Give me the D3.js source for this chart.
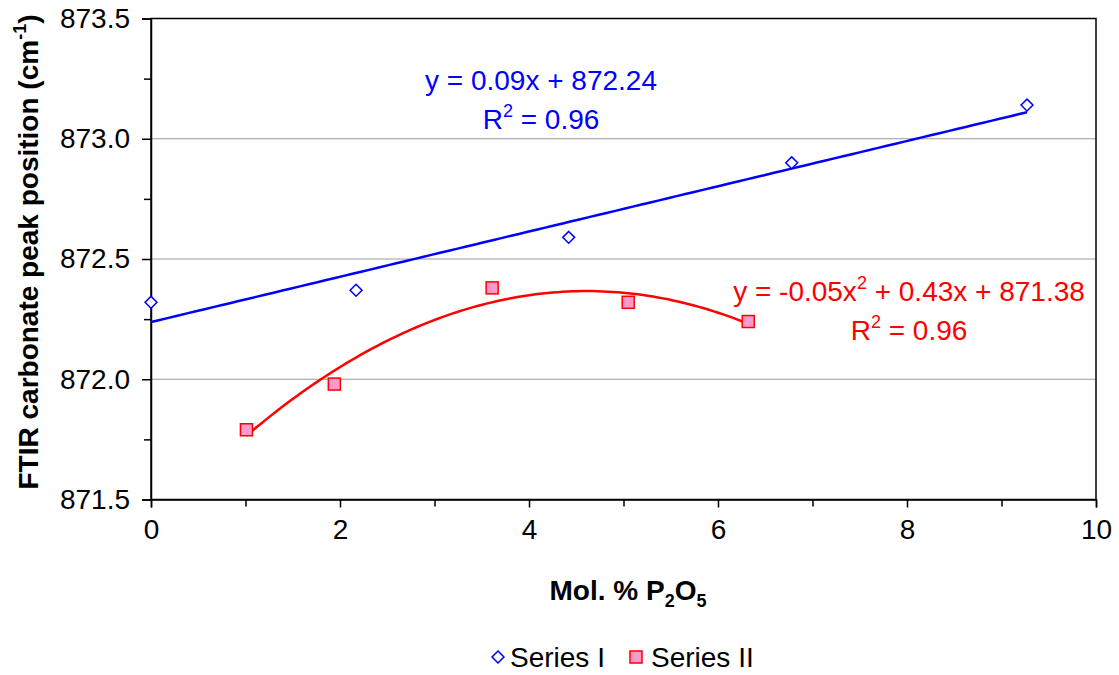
<!DOCTYPE html>
<html>
<head>
<meta charset="utf-8">
<script src="https://cdn.jsdelivr.net/npm/d3@7"></script>
<style>
  body { margin: 0; background: #fff; }
  text { font-family: Arial, "Liberation Sans", sans-serif; }
</style>
</head>
<body>
<svg id="chart" width="1119" height="675"></svg>
<script>
// data
var seriesIx = [0, 2.17, 4.42, 6.78, 9.27];
var seriesIy = [872.32, 872.37, 872.59, 872.90, 873.14];
var seriesIIx = [1.01, 1.94, 3.61, 5.05, 6.32];
var seriesIIy = [871.79, 871.98, 872.38, 872.32, 872.24];
var seriesNames = ['Series I', 'Series II'];
var xTicks = [0, 2, 4, 6, 8, 10];
var yTicks = [871.5, 872.0, 872.5, 873.0, 873.5];

var svg = d3.select('#chart');
var margin = {left: 151, top: 18.5, right: 1096, bottom: 499.5};

var x = d3.scaleLinear().domain([0, 10]).range([margin.left, margin.right]);
var y = d3.scaleLinear().domain([871.5, 873.5]).range([margin.bottom, margin.top]);

// gridlines
svg.append('g').selectAll('line')
    .data(yTicks.slice(1, -1))
    .enter().append('line')
    .attr('x1', margin.left).attr('x2', margin.right)
    .attr('y1', function(d) { return y(d); })
    .attr('y2', function(d) { return y(d); })
    .attr('stroke', '#9a9a9a')
    .attr('stroke-width', 1);

// plot border
svg.append('rect')
    .attr('x', margin.left).attr('y', margin.top)
    .attr('width', margin.right - margin.left)
    .attr('height', margin.bottom - margin.top)
    .attr('fill', 'none')
    .attr('stroke', '#000')
    .attr('stroke-width', 1.5);

// axes
var xAxis = d3.axisBottom(x).tickValues(xTicks).tickSize(8).tickPadding(12)
    .tickFormat(d3.format('d'));
var gx = svg.append('g').attr('transform', 'translate(0,' + margin.bottom + ')').call(xAxis);
gx.select('.domain').attr('stroke-width', 1.5);

var xMinor = d3.axisBottom(x).tickValues(d3.range(1, 10, 2)).tickSize(7).tickFormat('');
svg.append('g').attr('transform', 'translate(0,' + margin.bottom + ')').call(xMinor)
    .select('.domain').remove();

var yAxis = d3.axisLeft(y).tickValues(yTicks).tickSize(9).tickPadding(12)
    .tickFormat(d3.format('.1f'));
var gy = svg.append('g').attr('transform', 'translate(' + margin.left + ',0)').call(yAxis);
gy.select('.domain').attr('stroke-width', 1.5);

var yMinor = d3.axisLeft(y).tickValues([871.75, 872.25, 872.75, 873.25]).tickSize(7).tickFormat('');
svg.append('g').attr('transform', 'translate(' + margin.left + ',0)').call(yMinor)
    .select('.domain').remove();

svg.selectAll('.tick line').attr('stroke', '#000').attr('stroke-width', 1.5);
svg.selectAll('.tick text').attr('font-size', 28).attr('fill', '#000')
    .attr('font-family', 'Arial, "Liberation Sans", sans-serif');

// least squares fits
function linFit(xs, ys) {
    var n = xs.length, mx = d3.mean(xs), my = d3.mean(ys);
    var sxy = 0, sxx = 0;
    for (var i = 0; i < n; i++) {
        sxy += (xs[i] - mx) * (ys[i] - my);
        sxx += (xs[i] - mx) * (xs[i] - mx);
    }
    var b = sxy / sxx;
    return function(t) { return my + b * (t - mx); };
}

function quadFit(xs, ys) {
    // normal equations for a + b x + c x^2
    var s = [0, 0, 0, 0, 0], t = [0, 0, 0];
    xs.forEach(function(xv, i) {
        for (var k = 0; k < 5; k++) s[k] += Math.pow(xv, k);
        for (var k2 = 0; k2 < 3; k2++) t[k2] += ys[i] * Math.pow(xv, k2);
    });
    var M = [[s[0], s[1], s[2], t[0]], [s[1], s[2], s[3], t[1]], [s[2], s[3], s[4], t[2]]];
    for (var c = 0; c < 3; c++) {
        for (var r = c + 1; r < 3; r++) {
            var f = M[r][c] / M[c][c];
            for (var j = c; j < 4; j++) M[r][j] -= f * M[c][j];
        }
    }
    var coef = [0, 0, 0];
    for (var r2 = 2; r2 >= 0; r2--) {
        var v = M[r2][3];
        for (var j2 = r2 + 1; j2 < 3; j2++) v -= M[r2][j2] * coef[j2];
        coef[r2] = v / M[r2][r2];
    }
    return function(q) { return coef[0] + coef[1] * q + coef[2] * q * q; };
}

var fitI = linFit(seriesIx, seriesIy);
var fitII = quadFit(seriesIIx, seriesIIy);

var line = d3.line()
    .x(function(d) { return x(d[0]); })
    .y(function(d) { return y(d[1]); });

var xsI = d3.range(0, 101).map(function(i) { return d3.min(seriesIx) + (d3.max(seriesIx) - d3.min(seriesIx)) * i / 100; });
var xsII = d3.range(0, 101).map(function(i) { return d3.min(seriesIIx) + (d3.max(seriesIIx) - d3.min(seriesIIx)) * i / 100; });

svg.append('path')
    .attr('d', line(xsI.map(function(v) { return [v, fitI(v)]; })))
    .attr('fill', 'none').attr('stroke', '#0000ff').attr('stroke-width', 2.5);

svg.append('path')
    .attr('d', line(xsII.map(function(v) { return [v, fitII(v)]; })))
    .attr('fill', 'none').attr('stroke', '#ff0000').attr('stroke-width', 2.5);

// markers
var diamond = d3.symbol().type(d3.symbolDiamond2).size(90);
svg.append('g').selectAll('path')
    .data(d3.zip(seriesIx, seriesIy))
    .enter().append('path')
    .attr('d', diamond)
    .attr('transform', function(d) { return 'translate(' + x(d[0]) + ',' + y(d[1]) + ')'; })
    .attr('fill', '#fff').attr('stroke', '#0000ff').attr('stroke-width', 1.5);

svg.append('g').selectAll('rect')
    .data(d3.zip(seriesIIx, seriesIIy))
    .enter().append('rect')
    .attr('x', function(d) { return x(d[0]) - 6; })
    .attr('y', function(d) { return y(d[1]) - 6; })
    .attr('width', 12).attr('height', 12)
    .attr('fill', '#ff99cc').attr('stroke', '#ff0000').attr('stroke-width', 1.5);

// equations
function supText(g, parts, xPos, yPos, color, weight, anchor) {
    var t = g.append('text')
        .attr('x', xPos).attr('y', yPos)
        .attr('text-anchor', anchor || 'middle')
        .attr('font-size', 28)
        .attr('font-weight', weight || 'normal')
        .attr('fill', color);
    parts.forEach(function(p) {
        var ts = t.append('tspan').text(p.t);
        if (p.sup) ts.attr('font-size', 18).attr('dy', -12);
        else if (p.sub) ts.attr('font-size', 18).attr('dy', 7);
        else if (p.back) ts.attr('dy', p.back);
    });
    return t;
}

supText(svg, [{t: 'y = 0.09x + 872.24'}], 541, 90, '#0000ff');
supText(svg, [{t: 'R'}, {t: '2', sup: true}, {t: ' = 0.96', back: 12}], 541, 129, '#0000ff');

supText(svg, [{t: 'y = -0.05x'}, {t: '2', sup: true}, {t: ' + 0.43x + 871.38', back: 12}], 909, 301, '#ff0000');
supText(svg, [{t: 'R'}, {t: '2', sup: true}, {t: ' = 0.96', back: 12}], 909, 340, '#ff0000');

// axis titles
supText(svg, [{t: 'Mol. % P'}, {t: '2', sub: true}, {t: 'O', back: -7}, {t: '5', sub: true}], 628, 600, '#000', 'bold');

var yt = svg.append('g').attr('transform', 'translate(38,252) rotate(-90)');
supText(yt, [{t: 'FTIR carbonate peak position (cm'}, {t: '-1', sup: true}, {t: ')', back: 12}], 0, 0, '#000', 'bold');

// legend
var legend = svg.append('g');
legend.append('path')
    .attr('d', diamond)
    .attr('transform', 'translate(498,657)')
    .attr('fill', '#fff').attr('stroke', '#0000ff').attr('stroke-width', 1.5);
legend.append('text').attr('x', 510).attr('y', 667).attr('font-size', 28).text(seriesNames[0]);
legend.append('rect')
    .attr('x', 630).attr('y', 651).attr('width', 12).attr('height', 12)
    .attr('fill', '#ff99cc').attr('stroke', '#ff0000').attr('stroke-width', 1.5);
legend.append('text').attr('x', 651).attr('y', 667).attr('font-size', 28).text(seriesNames[1]);
</script>
</body>
</html>
